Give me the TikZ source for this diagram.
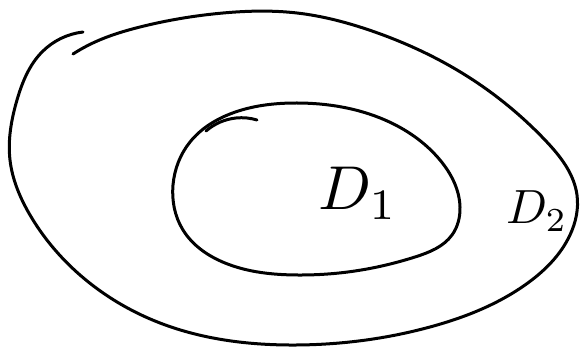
\documentclass[tikz,border=0pt]{standalone}
\usepackage{graphicx}
\usetikzlibrary{hobby}
\begin{document}
\begin{tikzpicture}[x=1pt,y=-1pt,
  pen/.style={line width=3pt,line cap=round,line join=round},
  lab/.style={inner sep=0pt,anchor=base west}]
\useasboundingbox (0,0) rectangle (582,347);
% outer curve
\draw[pen,use Hobby shortcut] (83,32) .. (42,52) .. (17,100) .. (10,160) .. (30,215)
 .. (80,275) .. (160,323) .. (297,345) .. (430,327) .. (525,285) .. (570,235)
 .. (577,195) .. (545,140) .. (470,78) .. (372,31) .. (297,13) .. (223,13)
 .. (140,27) .. (95,42) .. (73,54);
% inner curve
\draw[pen,use Hobby shortcut,closed=true] (297,103) .. (385,120) .. (440,160) .. (460,207)
 .. (452,235) .. (415,257) .. (355,271) .. (297,275) .. (225,263) .. (183,230) .. (173,185)
 .. (190,142) .. (230,114);
% short extra stroke on the inner curve
\draw[pen,use Hobby shortcut] (206,131) .. (236,118) .. (257,120);
% labels
\node[lab] (d1) at (318,210) {\scalebox{6.2}{$D_1$}};
\node[lab] (d2) at (506,224) {\scalebox{4.8}{$D_2$}};
\end{tikzpicture}
\end{document}
